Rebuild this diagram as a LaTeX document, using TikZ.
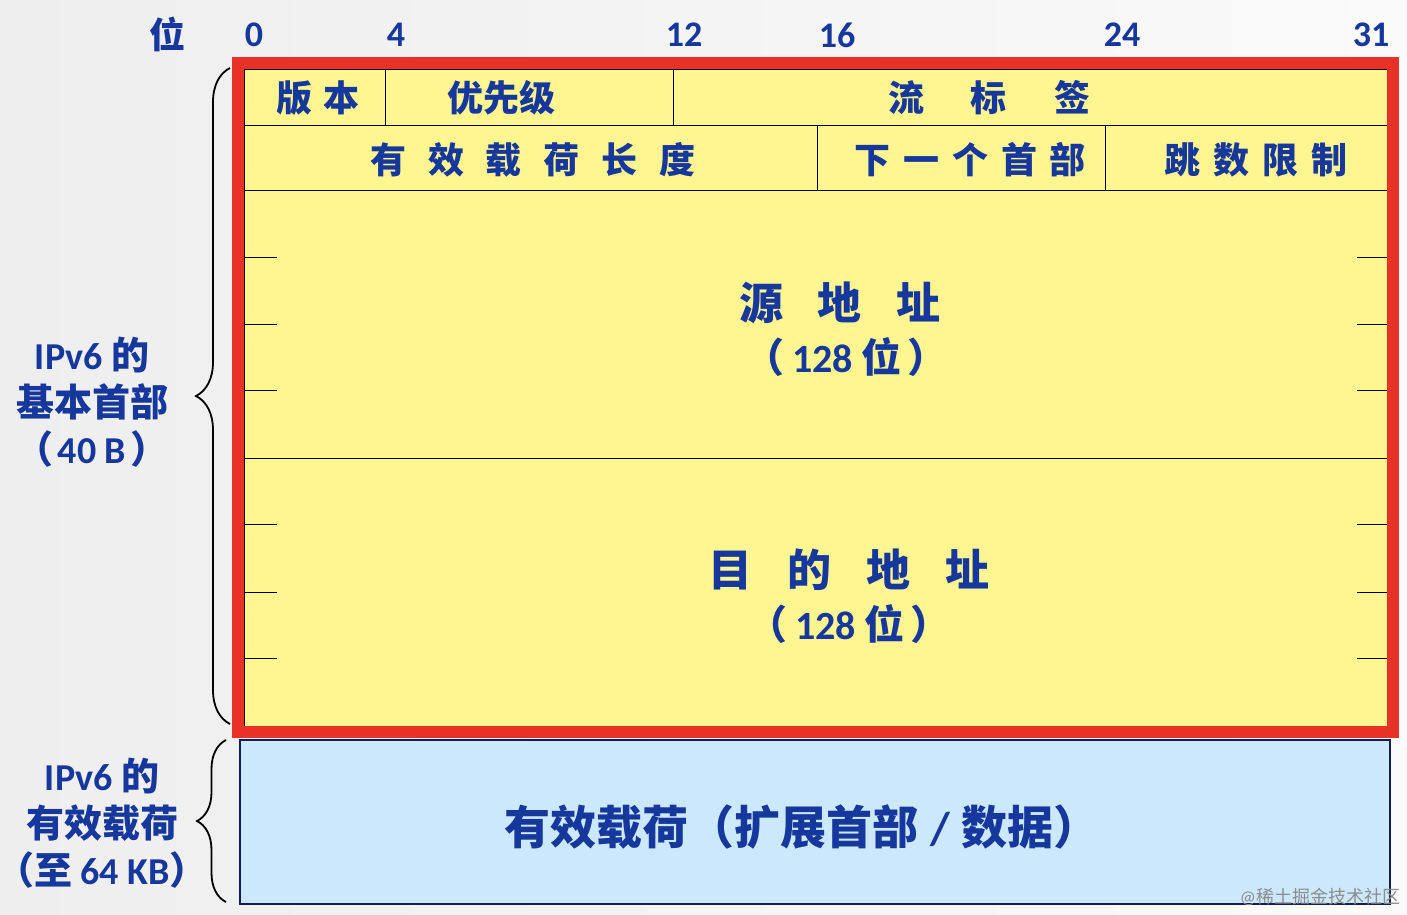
\documentclass[tikz,border=0pt]{standalone}
\usepackage{fontspec}
\setmainfont{Carlito}
\newfontfamily\cjk{Noto Sans CJK SC}
\newcommand\zh[1]{{\cjk #1}}
\usetikzlibrary{decorations.pathreplacing}
\definecolor{bg1}{RGB}{238,238,238}
\definecolor{bg2}{RGB}{250,250,250}
\definecolor{fieldyellow}{RGB}{255,246,145}
\definecolor{payblue}{RGB}{204,232,253}
\definecolor{payborder}{RGB}{20,30,80}
\definecolor{framered}{RGB}{232,50,40}
\definecolor{txtblue}{RGB}{22,55,155}
\begin{document}
\begin{tikzpicture}[x=1pt,y=-1pt,
  cell/.style={draw=black, line width=1pt, fill=fieldyellow, anchor=north west, inner sep=0pt, outer sep=0pt, minimum width=#1},
  lbl/.style={text=txtblue, inner sep=0pt, font=\bfseries\fontsize{#1}{#1}\selectfont},
  side/.style={text=txtblue, inner sep=0pt, align=center, font=\bfseries\fontsize{38}{47}\selectfont},
  bracebar/.style={draw=black, line width=1.8pt, decorate, decoration={brace, amplitude=#1}},
  tick/.style={draw=black, line width=1pt}]
\shade[left color=bg1, right color=bg2] (0,0) rectangle (1407,914);
\useasboundingbox (0,0) rectangle (1407,914);
% bit numbers
\node[lbl=36] (bitword) at (167,34) {\zh{位}};
\node[lbl=36] (b0) at (254,35) {0};
\node[lbl=36] (b4) at (396,35) {4};
\node[lbl=36] (b12) at (684,35) {12};
\node[lbl=36] (b16) at (837,35) {16};
\node[lbl=36] (b24) at (1122,35) {24};
\node[lbl=36] (b31) at (1371,35) {31};
% cells
\node[cell=141pt, minimum height=56pt] (ver) at (244,69) {};
\node[cell=288pt, minimum height=56pt] (pri) at (385,69) {};
\node[cell=714pt, minimum height=56pt] (flow) at (673,69) {};
\node[cell=573pt, minimum height=65pt] (plen) at (244,125) {};
\node[cell=288pt, minimum height=65pt] (next) at (817,125) {};
\node[cell=282pt, minimum height=65pt] (hop) at (1105,125) {};
\node[cell=1143pt, minimum height=268pt] (src) at (244,190) {};
\node[cell=1143pt, minimum height=268pt] (dst) at (244,458) {};
% ticks
\foreach \yy in {257,324,390} {
  \draw[tick] (src.west |- 0,\yy) -- ++(33,0);
  \draw[tick] (src.east |- 0,\yy) -- ++(-30,0);
}
\foreach \yy in {524,592,658} {
  \draw[tick] (dst.west |- 0,\yy) -- ++(33,0);
  \draw[tick] (dst.east |- 0,\yy) -- ++(-30,0);
}
% red frame
\node[draw=framered, line width=12pt, anchor=north west, inner sep=0pt, outer sep=0pt, minimum width=1155pt, minimum height=669pt] (frame) at (238,63) {};
% payload
\node[draw=payborder, line width=2pt, fill=payblue, anchor=north west, inner sep=0pt, outer sep=0pt, minimum width=1150pt, minimum height=164pt] (pay) at (240,740) {};
% field texts
\node[lbl=36] (tver) at (318,98) {\zh{版\hspace{11pt}本}};
\node[lbl=36] (tpri) at (501,98) {\zh{优先级}};
\node[lbl=36] (tflow) at (989,98) {\zh{流\hspace{47pt}标\hspace{47pt}签}};
\node[lbl=36] (tplen) at (533,160) {\zh{有\hspace{22pt}效\hspace{22pt}载\hspace{22pt}荷\hspace{22pt}长\hspace{22pt}度}};
\node[lbl=36] (tnext) at (970,160) {\zh{下\hspace{13pt}一\hspace{13pt}个\hspace{13pt}首\hspace{13pt}部}};
\node[lbl=36] (thop) at (1256,160) {\zh{跳\hspace{13pt}数\hspace{13pt}限\hspace{13pt}制}};
\node[lbl=44] (tsrc) at (840,303) {\zh{源\hspace{35pt}地\hspace{35pt}址}};
\node[lbl=40] (tsrcb) at (846,357) {\zh{（}\hspace{8pt}128 \zh{位}\hspace{6pt}\zh{）}};
\node[lbl=44] (tdst) at (849,570) {\zh{目\hspace{35pt}的\hspace{35pt}地\hspace{35pt}址}};
\node[lbl=40] (tdstb) at (849,624) {\zh{（}\hspace{8pt}128 \zh{位}\hspace{6pt}\zh{）}};
\node[lbl=46] (tpay) at (802,827) {\zh{有效载荷（扩展首部}\hspace{12pt}/\hspace{12pt}\zh{数据）}};
% side labels
\node[side] (hdrlbl) at (92,402) {IPv6 \zh{的}\\\zh{基本首部}\\\zh{（}\hspace{4pt}40 B\hspace{4pt}\zh{）}};
\node[side] (paylbl) at (102,823) {IPv6 \zh{的}\\\zh{有效载荷}\\\zh{（至} 64 KB\zh{）}};
% braces
\coordinate (hb1) at (230,724);
\coordinate (hb2) at (230,68);
\coordinate (pb1) at (226,902);
\coordinate (pb2) at (226,740);
\draw[bracebar=34pt] (hb1) -- (hb2);
\draw[bracebar=29pt] (pb1) -- (pb2);
% watermark
\node[text=black!45, inner sep=0pt, font=\fontsize{18}{18}\selectfont] (wm) at (1320,897) {@\zh{稀土掘金技术社区}};
\end{tikzpicture}
\end{document}
